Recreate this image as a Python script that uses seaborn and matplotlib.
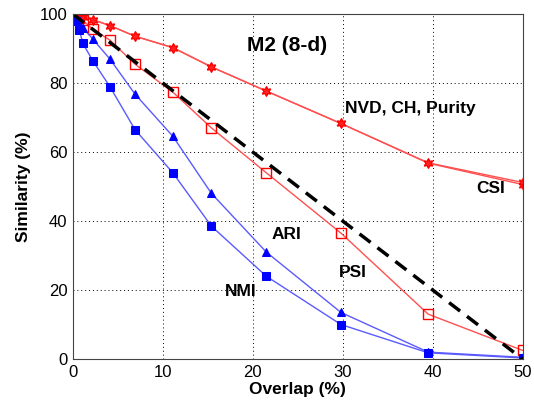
import numpy as np
import pandas as pd
import matplotlib
matplotlib.use("Agg")
import matplotlib.pyplot as plt
import seaborn as sns

# overlap values (%)
overlap = [0, 0.3, 0.7, 1.1, 2.2, 4.1, 6.9, 11.1, 15.4, 21.5, 29.8, 39.5, 50]

nvd = [100, 99.8, 99.6, 99.3, 98.4, 96.7, 93.6, 90.3, 84.7, 77.7, 68.3, 56.9, 51.2]
csi = [100, 99.8, 99.6, 99.3, 98.4, 96.7, 93.6, 90.3, 84.7, 77.7, 68.3, 56.8, 50.6]
psi = [100, 99.7, 99.0, 98.2, 95.6, 92.5, 85.5, 77.4, 67.0, 54.0, 36.5, 13.0, 2.5]
ari = [100, 99.0, 97.5, 96.0, 92.8, 87.0, 76.8, 64.6, 48.0, 31.0, 13.5, 2.0, 0.5]
nmi = [99.5, 98.0, 95.5, 91.5, 86.5, 79.0, 66.5, 54.0, 38.5, 24.0, 10.0, 1.8, 0.3]

diag_x = [0, 50]
diag_y = [100, 0]

sns.set_style("white")
plt.rcParams['font.family'] = ['Liberation Sans', 'DejaVu Sans']
plt.rcParams['text.color'] = 'black'
plt.rcParams['axes.labelcolor'] = 'black'

fig = plt.figure(figsize=(5.34, 4.12), dpi=100)
ax = fig.add_axes([0.1367, 0.1286, 0.842, 0.837])

red_line = "#ff5050"
blue_line = "#5a5aff"

sns.lineplot(x=overlap, y=csi, ax=ax, sort=False, color=red_line, lw=1,
             marker=(6, 1, 0), markersize=7, markerfacecolor="#ff2020",
             markeredgecolor="red", markeredgewidth=0.8)
sns.lineplot(x=overlap, y=nvd, ax=ax, sort=False, color=red_line, lw=1,
             marker=(6, 1, 0), markersize=7, markerfacecolor="#ff2020",
             markeredgecolor="red", markeredgewidth=0.8)
sns.lineplot(x=overlap, y=psi, ax=ax, sort=False, color=red_line, lw=1,
             marker="s", markersize=7, markerfacecolor="none",
             markeredgecolor="red", markeredgewidth=1)
sns.lineplot(x=overlap, y=ari, ax=ax, sort=False, color=blue_line, lw=1,
             marker="^", markersize=5.5, markerfacecolor="blue",
             markeredgecolor="blue")
sns.lineplot(x=overlap, y=nmi, ax=ax, sort=False, color=blue_line, lw=1,
             marker="s", markersize=5.5, markerfacecolor="blue",
             markeredgecolor="blue")
sns.lineplot(x=diag_x, y=diag_y, ax=ax, sort=False, color="black", lw=2.5,
             linestyle=(0, (4, 2.5)))

ax.set_xlim(0, 50)
ax.set_ylim(0, 100)
ax.set_xticks([0, 10, 20, 30, 40, 50])
ax.set_yticks([0, 20, 40, 60, 80, 100])
ax.grid(True, linestyle=(0, (1, 3)), color="black", lw=0.7)
ax.tick_params(direction="in", length=4, labelsize=12, colors="black", pad=4)
for s in ax.spines.values():
    s.set_color("#444444")
    s.set_linewidth(0.8)

ax.set_xlabel("Overlap (%)", fontsize=12.5, fontweight="bold", labelpad=2)
ax.set_ylabel("Similarity (%)", fontsize=12.5, fontweight="bold", labelpad=6)

ax.text(19.4, 91, "M2 (8-d)", fontsize=15, fontweight="bold", va="center")
ax.text(30.2, 72.7, "NVD, CH, Purity", fontsize=12.5, fontweight="bold", va="center")
ax.text(44.8, 49.5, "CSI", fontsize=12.5, fontweight="bold", va="center")
ax.text(22.1, 36, "ARI", fontsize=12.5, fontweight="bold", va="center")
ax.text(29.6, 25, "PSI", fontsize=12.5, fontweight="bold", va="center")
ax.text(16.9, 19.5, "NMI", fontsize=12.5, fontweight="bold", va="center")

plt.savefig("out.png", dpi=100)
